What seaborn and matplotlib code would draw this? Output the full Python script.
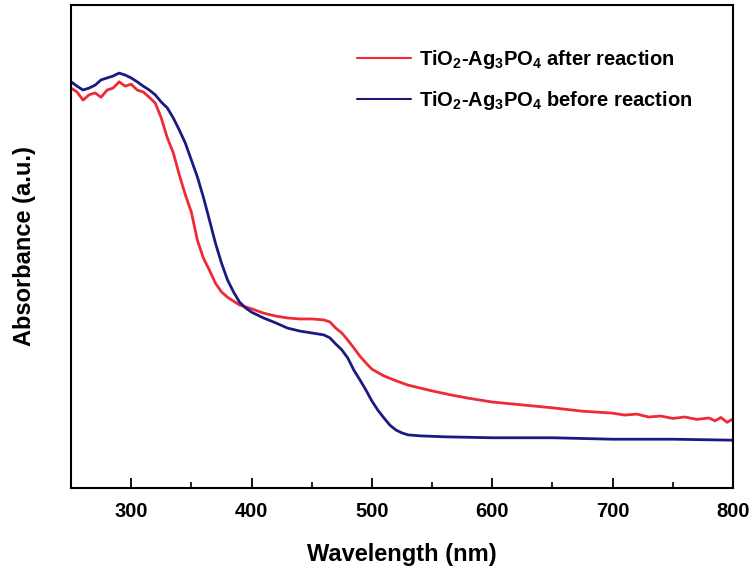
import numpy as np
import pandas as pd
import seaborn as sns
import matplotlib
matplotlib.use("Agg")
import matplotlib.pyplot as plt
from matplotlib.ticker import MultipleLocator

# ---- data ----
wl_after = [250, 255, 260, 265, 270, 275, 280, 285, 290, 295, 300, 305, 310, 315,
            320, 325, 330, 335, 340, 345, 350, 355, 360, 365, 370, 375, 380, 390,
            400, 410, 420, 430, 440, 450, 460, 465, 470, 475, 480, 485, 490, 495,
            500, 510, 520, 530, 540, 550, 565, 580, 600, 625, 650, 675, 700, 710,
            720, 730, 740, 750, 760, 770, 780, 785, 790, 795, 800]
abs_after = [0.828, 0.820, 0.803, 0.814, 0.818, 0.809, 0.824, 0.828, 0.841, 0.832,
             0.836, 0.824, 0.820, 0.809, 0.797, 0.766, 0.725, 0.694, 0.648, 0.607,
             0.571, 0.513, 0.476, 0.451, 0.424, 0.406, 0.395, 0.379, 0.371, 0.362,
             0.356, 0.352, 0.350, 0.350, 0.348, 0.344, 0.331, 0.321, 0.306, 0.290,
             0.273, 0.259, 0.246, 0.232, 0.222, 0.213, 0.207, 0.201, 0.193, 0.186,
             0.178, 0.172, 0.166, 0.159, 0.155, 0.151, 0.153, 0.147, 0.149, 0.144,
             0.147, 0.142, 0.145, 0.139, 0.146, 0.136, 0.143]

wl_before = [250, 255, 260, 265, 270, 275, 280, 285, 290, 295, 300, 305, 310, 315,
             320, 325, 330, 335, 340, 345, 350, 355, 360, 365, 370, 375, 380, 385,
             390, 395, 400, 410, 420, 430, 440, 450, 460, 465, 470, 475, 480, 485,
             490, 495, 500, 505, 510, 515, 520, 525, 530, 540, 560, 600, 650, 700,
             750, 800]
abs_before = [0.841, 0.832, 0.824, 0.828, 0.834, 0.845, 0.849, 0.853, 0.859, 0.855,
              0.849, 0.841, 0.832, 0.824, 0.814, 0.799, 0.787, 0.766, 0.741, 0.714,
              0.679, 0.644, 0.602, 0.555, 0.507, 0.466, 0.431, 0.406, 0.385, 0.373,
              0.364, 0.352, 0.342, 0.331, 0.325, 0.321, 0.317, 0.311, 0.298, 0.286,
              0.269, 0.244, 0.224, 0.203, 0.180, 0.161, 0.145, 0.130, 0.120, 0.114,
              0.110, 0.108, 0.106, 0.104, 0.104, 0.101, 0.101, 0.099]

label_after = r"TiO$_2$-Ag$_3$PO$_4$ after reaction"
label_before = r"TiO$_2$-Ag$_3$PO$_4$ before reaction"
x_ticks = [300, 400, 500, 600, 700, 800]

df = pd.concat([
    pd.DataFrame({"Wavelength": wl_after, "Absorbance": abs_after, "Sample": label_after}),
    pd.DataFrame({"Wavelength": wl_before, "Absorbance": abs_before, "Sample": label_before}),
], ignore_index=True)

sns.set_style("ticks")
plt.rcParams["font.family"] = ["Liberation Sans", "DejaVu Sans"]
plt.rcParams["font.weight"] = "bold"
plt.rcParams["text.color"] = "black"
plt.rcParams["axes.labelcolor"] = "black"
plt.rcParams["xtick.color"] = "black"
plt.rcParams["xtick.labelcolor"] = "black"
plt.rcParams["mathtext.fontset"] = "custom"
plt.rcParams["mathtext.rm"] = "Liberation Sans:bold"
plt.rcParams["mathtext.it"] = "Liberation Sans:bold"
plt.rcParams["mathtext.bf"] = "Liberation Sans:bold"

fig = plt.figure(figsize=(7.53, 5.72), dpi=100)
ax = fig.add_axes([71 / 753, 1 - 488 / 572, 662 / 753, 483 / 572])

sns.lineplot(data=df, x="Wavelength", y="Absorbance", hue="Sample",
             palette={label_after: "#EE2A36", label_before: "#1B1A82"},
             linewidth=2.0, ax=ax, sort=True, estimator=None)

ax.set_xlim(250, 800)
ax.set_ylim(0, 1)
ax.set_xticks(x_ticks)
ax.xaxis.set_minor_locator(MultipleLocator(50))
ax.set_yticks([])
ax.tick_params(axis="x", which="major", direction="in", length=7, width=1.3,
               labelsize=14.5, pad=10, colors="black")
ax.tick_params(axis="x", which="minor", direction="in", length=4, width=1.2,
               colors="black")
for lab in ax.get_xticklabels():
    lab.set_fontweight("bold")
for s in ax.spines.values():
    s.set_visible(True)
    s.set_linewidth(1.5)
    s.set_color("black")

ax.set_xlabel("Wavelength (nm)", fontsize=17, fontweight="bold", labelpad=16,
              color="black")
ax.set_ylabel("Absorbance (a.u.)", fontsize=17, fontweight="bold", labelpad=25,
              color="black")

leg = ax.legend(loc="upper left", bbox_to_anchor=(0.432, 0.91), frameon=False,
                fontsize=14.5, handlelength=2.7, handletextpad=0.4,
                labelspacing=0.85, borderpad=0, borderaxespad=0)
for t in leg.get_texts():
    t.set_fontweight("bold")
    t.set_color("black")
for h in leg.get_lines():
    h.set_linewidth(1.5)

fig.savefig("out.png", dpi=100)
